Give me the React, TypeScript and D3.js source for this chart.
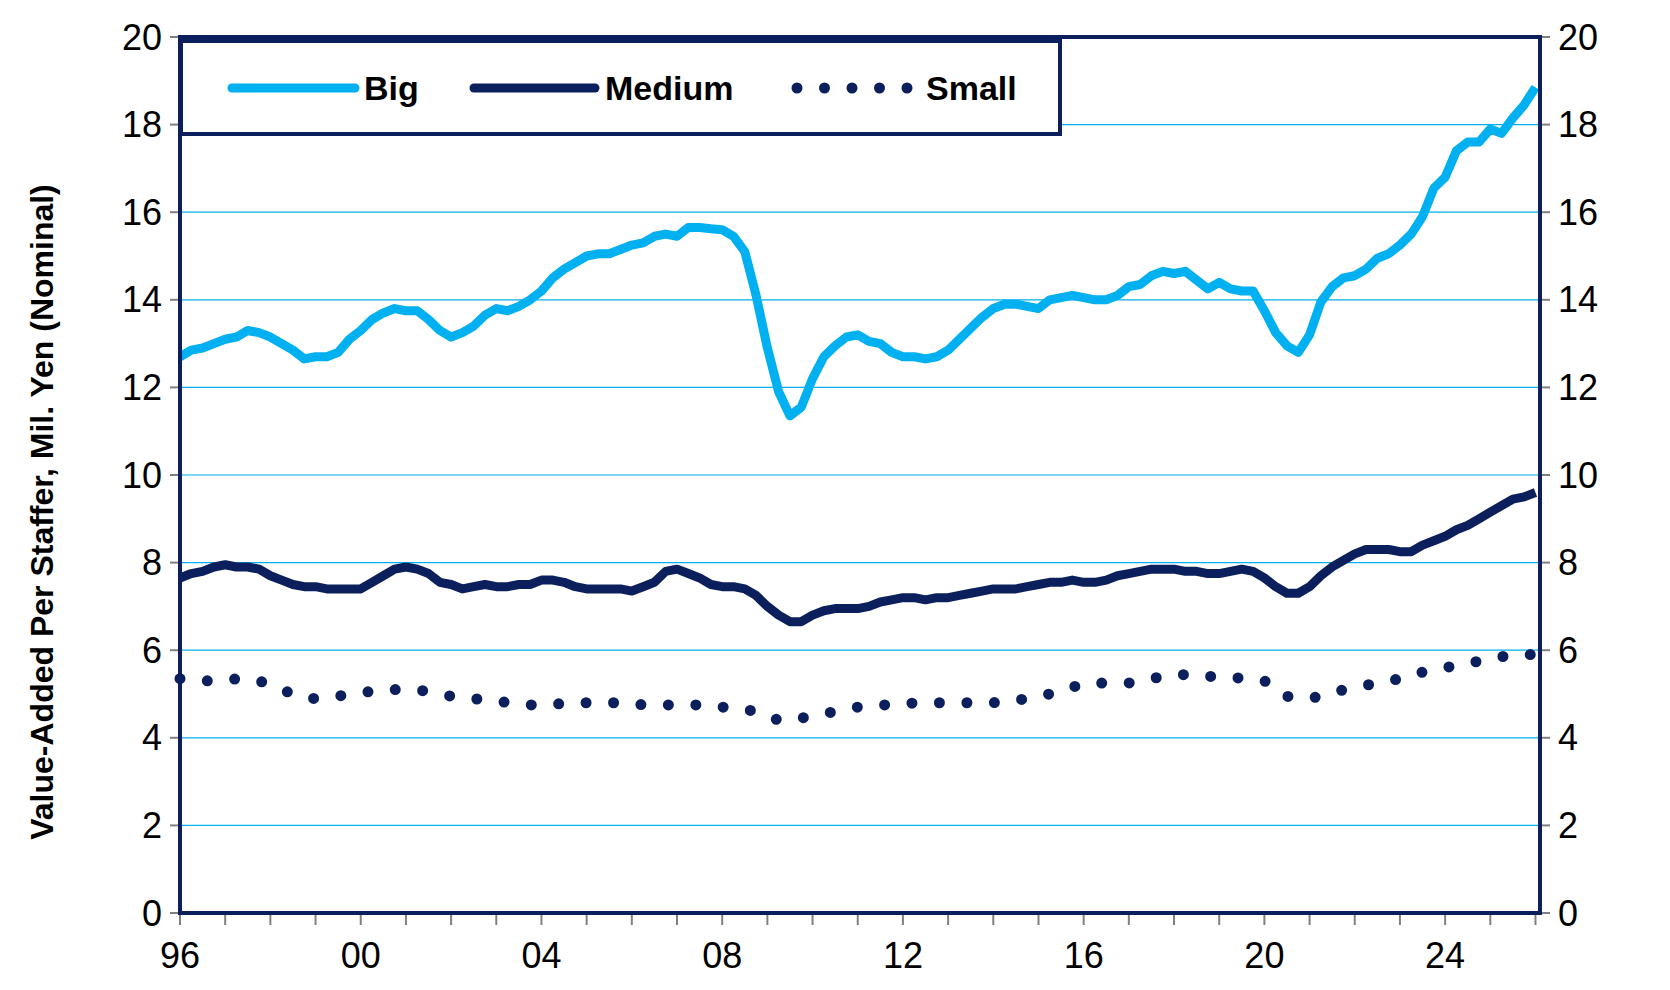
import React from "react";
import * as d3 from "d3";

// quarterly, 1996Q1 .. 2026Q1
const bigSeries = [
  12.7, 12.85, 12.9, 13.0, 13.1, 13.15, 13.3, 13.25, 13.15, 13.0, 12.85, 12.65,
  12.7, 12.7, 12.8, 13.1, 13.3, 13.55, 13.7, 13.8, 13.75, 13.75, 13.55, 13.3,
  13.15, 13.25, 13.4, 13.65, 13.8, 13.75, 13.85, 14.0, 14.2, 14.5, 14.7, 14.85,
  15.0, 15.05, 15.05, 15.15, 15.25, 15.3, 15.45, 15.5, 15.45, 15.65, 15.65, 15.62,
  15.6, 15.45, 15.1, 14.1, 12.9, 11.9, 11.35, 11.55, 12.2, 12.7, 12.95, 13.15,
  13.2, 13.05, 13.0, 12.8, 12.7, 12.7, 12.65, 12.7, 12.85, 13.1, 13.35, 13.6,
  13.8, 13.9, 13.9, 13.85, 13.8, 14.0, 14.05, 14.1, 14.05, 14.0, 14.0, 14.1,
  14.3, 14.35, 14.55, 14.65, 14.6, 14.65, 14.45, 14.25, 14.4, 14.25, 14.2, 14.2,
  13.75, 13.25, 12.95, 12.8, 13.2, 13.95, 14.3, 14.5, 14.55, 14.7, 14.95, 15.05,
  15.25, 15.5, 15.9, 16.55, 16.8, 17.4, 17.6, 17.6, 17.9, 17.8, 18.15, 18.45, 18.85,
];
const mediumSeries = [
  7.65, 7.75, 7.8, 7.9, 7.95, 7.9, 7.9, 7.85, 7.7, 7.6, 7.5, 7.45,
  7.45, 7.4, 7.4, 7.4, 7.4, 7.55, 7.7, 7.85, 7.9, 7.85, 7.75, 7.55,
  7.5, 7.4, 7.45, 7.5, 7.45, 7.45, 7.5, 7.5, 7.6, 7.6, 7.55, 7.45,
  7.4, 7.4, 7.4, 7.4, 7.35, 7.45, 7.55, 7.8, 7.85, 7.75, 7.65, 7.5,
  7.45, 7.45, 7.4, 7.25, 7.0, 6.8, 6.65, 6.65, 6.8, 6.9, 6.95, 6.95,
  6.95, 7.0, 7.1, 7.15, 7.2, 7.2, 7.15, 7.2, 7.2, 7.25, 7.3, 7.35,
  7.4, 7.4, 7.4, 7.45, 7.5, 7.55, 7.55, 7.6, 7.55, 7.55, 7.6, 7.7,
  7.75, 7.8, 7.85, 7.85, 7.85, 7.8, 7.8, 7.75, 7.75, 7.8, 7.85, 7.8,
  7.65, 7.45, 7.3, 7.3, 7.45, 7.7, 7.9, 8.05, 8.2, 8.3, 8.3, 8.3,
  8.25, 8.25, 8.4, 8.5, 8.6, 8.75, 8.85, 9.0, 9.15, 9.3, 9.45, 9.5, 9.6,
];
const smallSeries = [
  5.35, 5.3, 5.3, 5.3, 5.3, 5.35, 5.3, 5.3, 5.2, 5.1, 5.0, 4.9,
  4.9, 4.9, 4.95, 5.0, 5.05, 5.05, 5.1, 5.1, 5.1, 5.1, 5.05, 5.0,
  4.95, 4.9, 4.9, 4.85, 4.85, 4.8, 4.8, 4.75, 4.75, 4.75, 4.8, 4.8,
  4.8, 4.8, 4.8, 4.8, 4.8, 4.75, 4.75, 4.75, 4.75, 4.75, 4.75, 4.7,
  4.7, 4.7, 4.65, 4.6, 4.5, 4.4, 4.4, 4.45, 4.5, 4.55, 4.6, 4.65,
  4.7, 4.75, 4.75, 4.75, 4.75, 4.8, 4.8, 4.8, 4.8, 4.8, 4.8, 4.8,
  4.8, 4.85, 4.85, 4.9, 4.95, 5.0, 5.05, 5.15, 5.25, 5.25, 5.25, 5.25,
  5.25, 5.3, 5.35, 5.4, 5.4, 5.45, 5.45, 5.4, 5.4, 5.4, 5.35, 5.35,
  5.3, 5.15, 4.95, 4.9, 4.9, 4.95, 5.0, 5.1, 5.15, 5.2, 5.25, 5.3,
  5.35, 5.4, 5.5, 5.55, 5.6, 5.65, 5.7, 5.75, 5.8, 5.85, 5.9, 5.9, 5.9,
];
const xTickYears = [1996, 2000, 2004, 2008, 2012, 2016, 2020, 2024];
const yTicks = [0, 2, 4, 6, 8, 10, 12, 14, 16, 18, 20];

const NAVY = "#0B1F5C";
const CYAN = "#00B0F0";
const FONT = "Liberation Sans, Arial, sans-serif";

export default function App() {
  const left = 180, right = 1540, top = 37, bottom = 913;
  const x = d3.scaleLinear().domain([1996, 2026.1]).range([left, right]);
  const y = d3.scaleLinear().domain([0, 20]).range([bottom, top]);
  const t = (i: number) => 1996 + i / 4;
  const line = d3.line<number>().x((_, i) => x(t(i))).y((d) => y(d));
  const minor = d3.range(1996, 2027);

  return (
    <svg width={1670} height={990} style={{ display: "block", margin: -8 }} fontFamily={FONT}>
      <rect width={1670} height={990} fill="#fff" />
      {yTicks.map((v) => (
        <g key={v}>
          {v > 0 && v < 20 && <line x1={left} x2={right} y1={y(v)} y2={y(v)} stroke={CYAN} strokeWidth={1.2} />}
          <line x1={left - 10} x2={left} y1={y(v)} y2={y(v)} stroke="#808080" strokeWidth={2} />
          <line x1={right} x2={right + 10} y1={y(v)} y2={y(v)} stroke="#808080" strokeWidth={2} />
          <text x={left - 18} y={y(v)} textAnchor="end" dominantBaseline="central" fontSize={36}>{v}</text>
          <text x={right + 18} y={y(v)} textAnchor="start" dominantBaseline="central" fontSize={36}>{v}</text>
        </g>
      ))}
      {minor.map((yr) => (
        <line key={yr} x1={x(yr)} x2={x(yr)} y1={bottom} y2={bottom + 12} stroke="#808080" strokeWidth={2} />
      ))}
      {xTickYears.map((yr) => (
        <text key={yr} x={x(yr)} y={968} textAnchor="middle" fontSize={36}>
          {String(yr % 100).padStart(2, "0")}
        </text>
      ))}
      <path d={line(smallSeries) ?? ""} fill="none" stroke={NAVY} strokeWidth={11} strokeLinecap="round" strokeDasharray="0 27.5" />
      <path d={line(mediumSeries) ?? ""} fill="none" stroke={NAVY} strokeWidth={9} strokeLinejoin="round" />
      <path d={line(bigSeries) ?? ""} fill="none" stroke={CYAN} strokeWidth={9} strokeLinejoin="round" />
      <rect x={left} y={top} width={right - left} height={bottom - top} fill="none" stroke={NAVY} strokeWidth={4} />
      <g>
        <rect x={181} y={41} width={879} height={93} fill="#fff" stroke={NAVY} strokeWidth={4} />
        <line x1={232} x2={355} y1={88} y2={88} stroke={CYAN} strokeWidth={9} strokeLinecap="round" />
        <text x={364} y={88} dominantBaseline="central" fontSize={34} fontWeight="bold">Big</text>
        <line x1={474} x2={595} y1={88} y2={88} stroke={NAVY} strokeWidth={9} strokeLinecap="round" />
        <text x={605} y={88} dominantBaseline="central" fontSize={34} fontWeight="bold">Medium</text>
        <line x1={797} x2={910} y1={88} y2={88} stroke={NAVY} strokeWidth={11} strokeLinecap="round" strokeDasharray="0 27.5" />
        <text x={926} y={88} dominantBaseline="central" fontSize={34} fontWeight="bold">Small</text>
      </g>
      <text transform="translate(42,512) rotate(-90)" textAnchor="middle" dominantBaseline="central" fontSize={32} fontWeight="bold">
        Value-Added Per Staffer, Mil. Yen (Nominal)
      </text>
    </svg>
  );
}
